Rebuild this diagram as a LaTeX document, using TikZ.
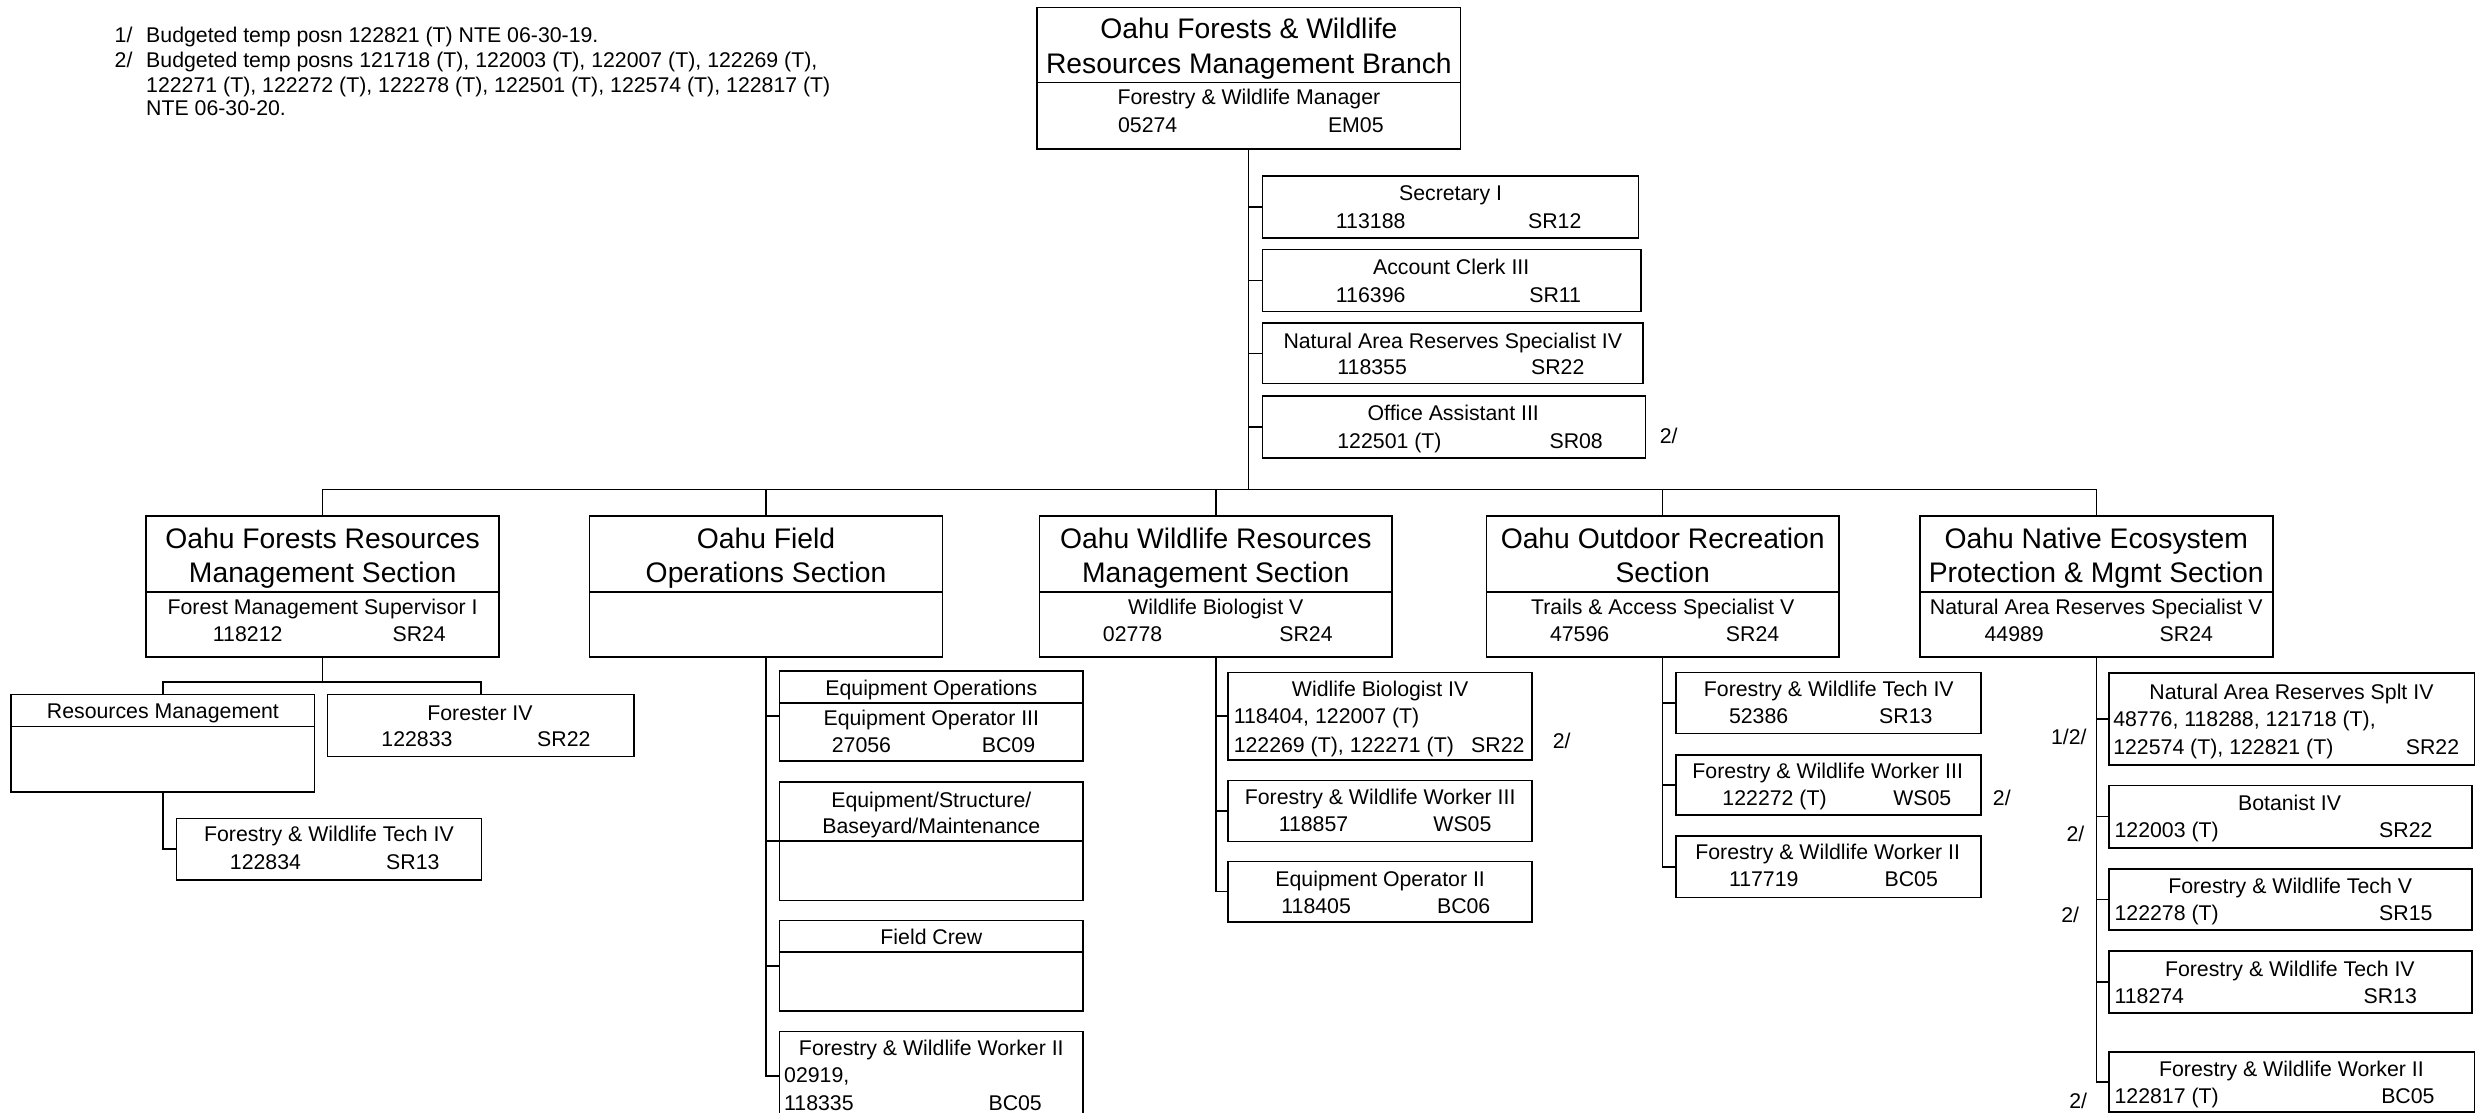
\documentclass[tikz,border=0pt]{standalone}
\usepackage{fontspec}
\setmainfont{Liberation Sans}
\newcounter{tn}
\newcommand\fsS{\fontsize{13.4}{16}\selectfont}
\newcommand\fsH{\fontsize{17.8}{21}\selectfont}
\tikzset{
  bx/.style={draw, line width=1pt, rectangle, inner sep=0pt, outer sep=0pt, anchor=north west},
  ln/.style={draw, line width=1pt},
  dv/.style={draw, line width=1pt},
  st/.style={inner sep=0pt, outer sep=0pt, font=\fsS},
  ht/.style={inner sep=0pt, outer sep=0pt, font=\fsH},
}
\newcommand\BX[5]{\node[bx, minimum width={(#4-#2)*1pt}, minimum height={(#5-#3)*1pt}] (#1) at (#2,#3) {};}
\newcommand\DV[2]{\draw[dv] (#1.west |- 0,#2) -- (#1.east |- 0,#2);}
\newcommand\TC[3]{\stepcounter{tn}\node[st,anchor=base] (t\arabic{tn}) at (#1,#2+4.6) {#3};}
\newcommand\TL[3]{\stepcounter{tn}\node[st,anchor=base west] (t\arabic{tn}) at (#1,#2+4.6) {#3};}
\newcommand\HC[3]{\stepcounter{tn}\node[ht,anchor=base] (t\arabic{tn}) at (#1,#2+6.2) {#3};}
\begin{document}
\begin{tikzpicture}[x=1pt,y=-1pt]
\useasboundingbox[fill=white] (0,0) rectangle (1568,700);
% footnotes
\TL{72.2}{22}{1/}
\TL{92}{22}{Budgeted temp posn 122821 (T) NTE 06-30-19.}
\TL{72.2}{37.7}{2/}
\TL{92}{37.7}{Budgeted temp posns 121718 (T), 122003 (T), 122007 (T), 122269 (T),}
\TL{92}{53.5}{122271 (T), 122272 (T), 122278 (T), 122501 (T), 122574 (T), 122817 (T)}
\TL{92}{68.1}{NTE 06-30-20.}
% top box
\BX{T}{652.3}{4.6}{919}{93.7}
\DV{T}{51.8}
\HC{785.8}{18}{Oahu Forests \& Wildlife}
\HC{785.8}{40.2}{Resources Management Branch}
\TC{785.8}{61.3}{Forestry \& Wildlife Manager}
\TL{703.5}{78.6}{05274}
\TL{835.6}{78.6}{EM05}
% admin boxes
\BX{A1}{794.3}{110.6}{1030.9}{149.7}
\TC{912.7}{121.6}{Secretary I}
\TL{840.6}{139.1}{113188}
\TL{961.5}{139.1}{SR12}
\BX{A2}{794.3}{156.9}{1032.6}{196}
\TC{913.1}{168.1}{Account Clerk III}
\TL{840.6}{185.6}{116396}
\TL{962.3}{185.6}{SR11}
\BX{A3}{794.3}{203.4}{1033.7}{241.4}
\TC{914.1}{214.6}{Natural Area Reserves Specialist IV}
\TL{841.5}{230.9}{118355}
\TL{963.4}{230.9}{SR22}
\BX{A4}{794.3}{249}{1035.4}{288}
\TC{914.4}{260}{Office Assistant III}
\TL{841.5}{277.6}{122501 (T)}
\TL{975}{277.6}{SR08}
\TL{1044.4}{274.4}{2/}
% sections
\BX{S1}{92}{324.7}{314}{413.5}
\DV{S1}{372.6}
\HC{203}{338.7}{Oahu Forests Resources}
\HC{203}{360.6}{Management Section}
\TC{203}{381.8}{Forest Management Supervisor I}
\TL{134}{399.2}{118212}
\TL{247}{399.2}{SR24}
\BX{S2}{371}{324.7}{593}{413.5}
\DV{S2}{372.6}
\HC{482}{338.7}{Oahu Field}
\HC{482}{360.6}{Operations Section}
\BX{S3}{654}{324.7}{876}{413.5}
\DV{S3}{372.6}
\HC{765}{338.7}{Oahu Wildlife Resources}
\HC{765}{360.6}{Management Section}
\TC{765}{381.8}{Wildlife Biologist V}
\TL{694}{399.2}{02778}
\TL{805}{399.2}{SR24}
\BX{S4}{935.3}{324.7}{1157}{413.5}
\DV{S4}{372.6}
\HC{1046.2}{338.7}{Oahu Outdoor Recreation}
\HC{1046.2}{360.6}{Section}
\TC{1046.2}{381.8}{Trails \& Access Specialist V}
\TL{975.3}{399.2}{47596}
\TL{1086}{399.2}{SR24}
\BX{S5}{1208}{324.7}{1430}{413.5}
\DV{S5}{372.6}
\HC{1319}{338.7}{Oahu Native Ecosystem}
\HC{1319}{360.6}{Protection \& Mgmt Section}
\TC{1319}{381.8}{Natural Area Reserves Specialist V}
\TL{1248.7}{399.2}{44989}
\TL{1358.9}{399.2}{SR24}
% section 1 children
\BX{RM}{7}{437}{198}{498.5}
\DV{RM}{457}
\TC{102.5}{447.5}{Resources Management}
\BX{F4}{206}{437}{399}{476}
\TC{302}{449}{Forester IV}
\TL{240}{465}{122833}
\TL{338}{465}{SR22}
\BX{FT}{111}{515}{303}{553.6}
\TC{207}{525}{Forestry \& Wildlife Tech IV}
\TL{144.7}{542.7}{122834}
\TL{243}{542.7}{SR13}
% section 2 children
\BX{EO}{490.4}{422.3}{681.4}{479}
\DV{EO}{442.2}
\TC{586}{433}{Equipment Operations}
\TC{586}{451.7}{Equipment Operator III}
\TL{523.4}{469}{27056}
\TL{617.8}{469}{BC09}
\BX{ES}{490.4}{492}{681.4}{566.6}
\DV{ES}{529.3}
\TC{586}{503.2}{Equipment/Structure/}
\TC{586}{520}{Baseyard/Maintenance}
\BX{FC}{490.4}{579.3}{681.4}{636}
\DV{FC}{599}
\TC{586}{589.7}{Field Crew}
\BX{W2}{490.4}{649}{681.4}{705}
\TC{586}{659.4}{Forestry \& Wildlife Worker II}
\TL{493.4}{676.8}{02919,}
\TL{493.4}{694}{118335}
\TL{622}{694}{BC05}
% section 3 children
\BX{WB}{772.8}{423.2}{964}{478.1}
\TC{868.4}{433.8}{Widlife Biologist IV}
\TL{776.3}{450.7}{118404, 122007 (T)}
\TL{776.3}{468.6}{122269 (T), 122271 (T)}
\TL{925.7}{468.6}{SR22}
\TL{977}{466.5}{2/}
\BX{WW}{772.8}{491.2}{964}{529.4}
\TC{868.4}{501.7}{Forestry \& Wildlife Worker III}
\TL{804.6}{518.8}{118857}
\TL{901.9}{518.8}{WS05}
\BX{EP}{772.8}{542}{964}{580}
\TC{868.4}{553}{Equipment Operator II}
\TL{806.3}{569.9}{118405}
\TL{904.2}{569.9}{BC06}
% section 4 children
\BX{OT}{1054.4}{423.2}{1246.6}{461.6}
\TC{1150.7}{433.8}{Forestry \& Wildlife Tech IV}
\TL{1087.9}{450.7}{52386}
\TL{1182.4}{450.7}{SR13}
\BX{OW}{1054.4}{474.9}{1246.6}{512.9}
\TC{1150}{485}{Forestry \& Wildlife Worker III}
\TL{1083.8}{502}{122272 (T)}
\TL{1191.3}{502}{WS05}
\TL{1254}{502.4}{2/}
\BX{OX}{1054.4}{526.2}{1246.6}{564.6}
\TC{1150}{536.5}{Forestry \& Wildlife Worker II}
\TL{1087.9}{553.4}{117719}
\TL{1185.8}{553.4}{BC05}
% section 5 children
\BX{N4}{1327.1}{423.3}{1556.9}{481.3}
\TC{1441.8}{435.7}{Natural Area Reserves Splt IV}
\TL{1329.7}{452.7}{48776, 118288, 121718 (T),}
\TL{1329.7}{470}{122574 (T), 122821 (T)}
\TL{1513.8}{470}{SR22}
\TL{1290.5}{463.9}{1/2/}
\BX{BO}{1327.1}{494.2}{1555.3}{533.5}
\TC{1440.6}{505.6}{Botanist IV}
\TL{1330.5}{522.3}{122003 (T)}
\TL{1497}{522.3}{SR22}
\TL{1300.3}{524.8}{2/}
\BX{TV}{1327.1}{546.7}{1555.3}{585.3}
\TC{1441}{557.9}{Forestry \& Wildlife Tech V}
\TL{1330.5}{574.6}{122278 (T)}
\TL{1497}{574.6}{SR15}
\TL{1297}{575.8}{2/}
\BX{TI}{1327.1}{598.2}{1555.3}{637.5}
\TC{1440.8}{609.9}{Forestry \& Wildlife Tech IV}
\TL{1330.5}{626.8}{118274}
\TL{1487.2}{626.8}{SR13}
\BX{NW}{1327.1}{662.1}{1556.9}{699.5}
\TC{1441.8}{672.8}{Forestry \& Wildlife Worker II}
\TL{1330.5}{689.7}{122817 (T)}
\TL{1498.3}{689.7}{BC05}
\TL{1302}{692.7}{2/}
% connectors
\coordinate (bus) at (0,308);
\draw[ln] (T.south) -- (T.south |- bus);
\foreach \a in {A1,A2,A3,A4} {\draw[ln] (\a.west) -- (\a.west -| T.south);}
\draw[ln] (S1.north) -- (S1.north |- bus) -- (S5.north |- bus) -- (S5.north);
\foreach \s in {S2,S3,S4} {\draw[ln] (\s.north) -- (\s.north |- bus);}
\coordinate (b1) at (0,429);
\draw[ln] (S1.south) -- (S1.south |- b1);
\draw[ln] (RM.north) -- (RM.north |- b1) -- (F4.north |- b1) -- (F4.north);
\draw[ln] (RM.south) |- (FT.west);
\draw[ln] (S2.south) |- (W2.west);
\foreach \c in {EO,ES,FC} {\draw[ln] (\c.west) -- (\c.west -| S2.south);}
\draw[ln] (S3.south) |- (EP.west);
\foreach \c in {WB,WW} {\draw[ln] (\c.west) -- (\c.west -| S3.south);}
\draw[ln] (S4.south) |- (OX.west);
\foreach \c in {OT,OW} {\draw[ln] (\c.west) -- (\c.west -| S4.south);}
\draw[ln] (S5.south) |- (NW.west);
\foreach \c in {N4,BO,TV,TI} {\draw[ln] (\c.west) -- (\c.west -| S5.south);}
\end{tikzpicture}
\end{document}
